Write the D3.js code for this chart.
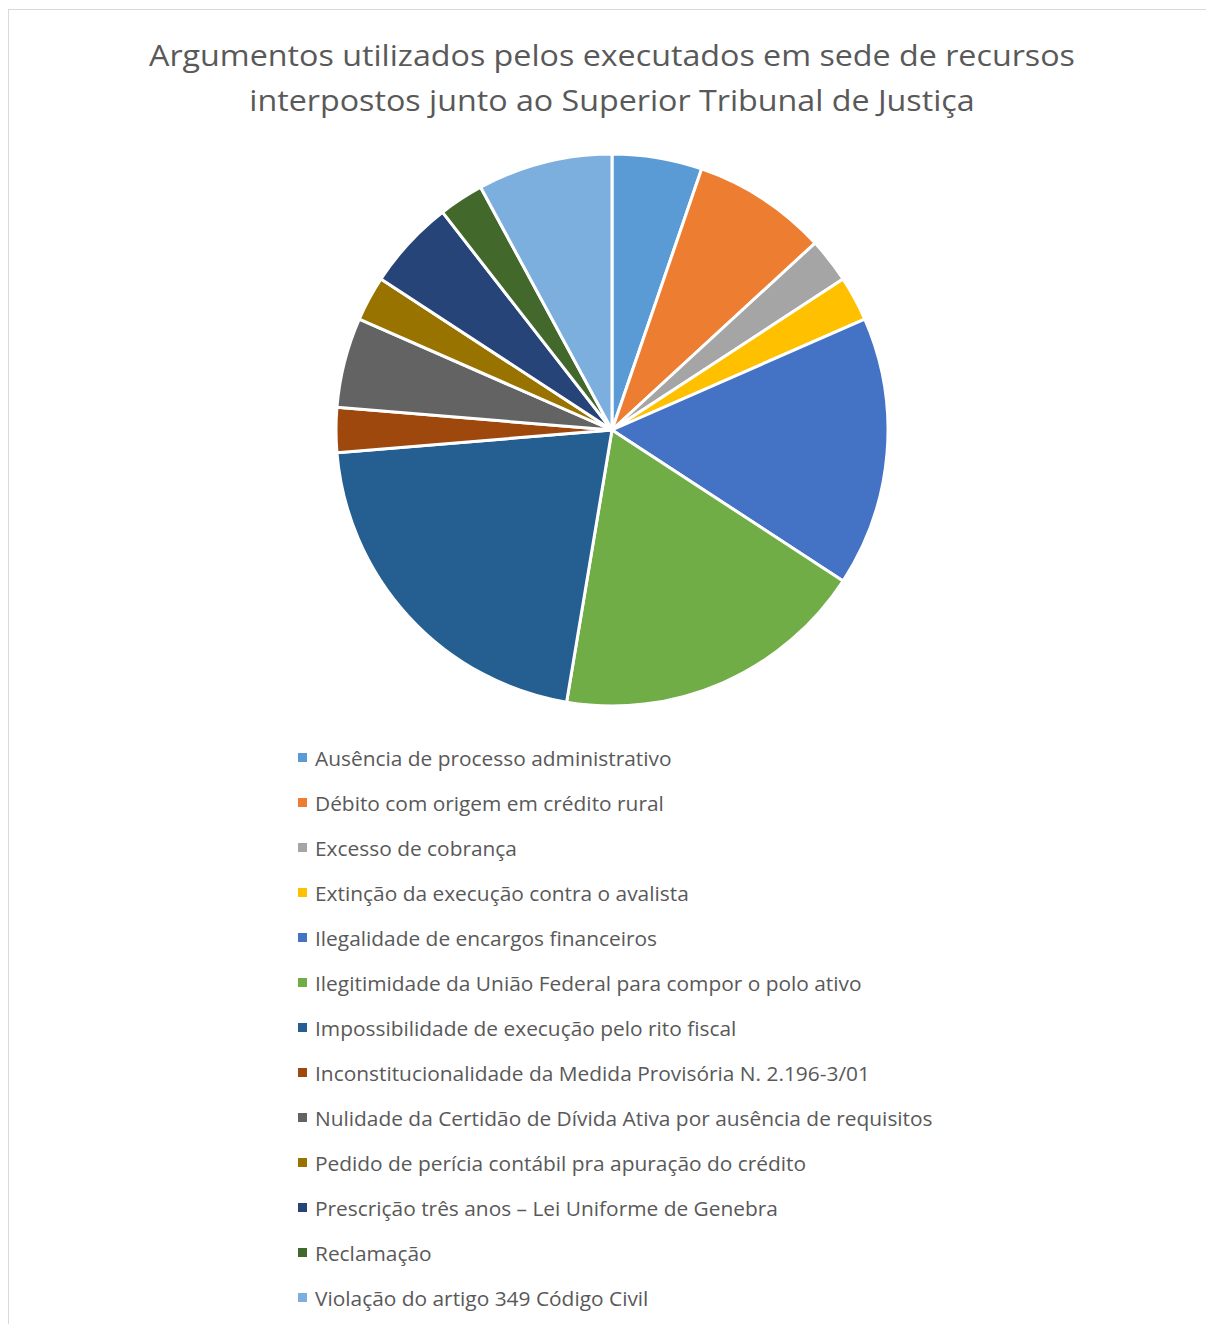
<!DOCTYPE html>
<html>
<head>
<meta charset="utf-8">
<script src="https://cdn.jsdelivr.net/npm/d3@7"></script>
<style>
  body { margin: 0; background: #fff; }
  text { font-family: "Open Sans", sans-serif; fill: #595959; }
</style>
</head>
<body>
<div id="chart"></div>
<script>
const width = 1206,
  height = 1324,
  cx = 612, cy = 430,
  radius = 276;

/* DATA */
const titleLines = [
  "Argumentos utilizados pelos executados em sede de recursos",
  "interpostos junto ao Superior Tribunal de Justiça"
];
const categories = [
  "Ausência de processo administrativo",
  "Débito com origem em crédito rural",
  "Excesso de cobrança",
  "Extinção da execução contra o avalista",
  "Ilegalidade de encargos financeiros",
  "Ilegitimidade da União Federal para compor o polo ativo",
  "Impossibilidade de execução pelo rito fiscal",
  "Inconstitucionalidade da Medida Provisória N. 2.196-3/01",
  "Nulidade da Certidão de Dívida Ativa por ausência de requisitos",
  "Pedido de perícia contábil pra apuração do crédito",
  "Prescrição três anos – Lei Uniforme de Genebra",
  "Reclamação",
  "Violação do artigo 349 Código Civil"
];
const counts = [2, 3, 1, 1, 6, 7, 8, 1, 2, 1, 2, 1, 3];
const colors = ["#5B9BD5", "#ED7D31", "#A5A5A5", "#FFC000", "#4472C4", "#70AD47",
  "#255E91", "#9E480E", "#636363", "#997300", "#264478", "#43682B", "#7CAFDD"];

const data = categories.map((c, i) => ({ name: c, value: counts[i] }));

const colorScale = d3.scaleOrdinal()
  .domain(categories)
  .range(colors);

const svg = d3.select("#chart")
  .append("svg")
  .attr("width", width)
  .attr("height", height);

// chart border
svg.append("rect")
  .attr("x", 8.5)
  .attr("y", 9.5)
  .attr("width", 1210)
  .attr("height", 1330)
  .attr("fill", "none")
  .attr("stroke", "#d9d9d9")
  .attr("stroke-width", 1);

// stretch text a little so widths match the Calibri original
const stretch = function(k) {
  return function() {
    const w = this.getComputedTextLength();
    d3.select(this).attr("textLength", w * k).attr("lengthAdjust", "spacingAndGlyphs");
  };
};

// title
svg.append("g")
  .selectAll("text")
  .data(titleLines)
  .join("text")
  .attr("x", cx)
  .attr("y", (d, i) => 66 + i * 45)
  .attr("text-anchor", "middle")
  .attr("font-size", "30px")
  .text(d => d)
  .each(stretch(1.074));

// pie
const pie = d3.pie()
  .value(d => d.value)
  .sort(null);

const arc = d3.arc()
  .innerRadius(0)
  .outerRadius(radius);

svg.append("g")
  .attr("transform", `translate(${cx}, ${cy})`)
  .selectAll("path")
  .data(pie(data))
  .join("path")
  .attr("d", arc)
  .attr("fill", d => colorScale(d.data.name))
  .attr("stroke", "#fff")
  .attr("stroke-width", 3)
  .attr("stroke-linejoin", "round");

// legend
const legend = svg.append("g")
  .attr("transform", `translate(298, 758)`);

const rows = legend.selectAll("g")
  .data(categories)
  .join("g")
  .attr("transform", (d, i) => `translate(0, ${i * 45})`);

rows.append("rect")
  .attr("x", 0)
  .attr("y", -5)
  .attr("width", 9)
  .attr("height", 9)
  .attr("fill", d => colorScale(d));

rows.append("text")
  .attr("x", 17)
  .attr("y", 8)
  .attr("font-size", "20px")
  .text(d => d)
  .each(stretch(1.044));
</script>
</body>
</html>
